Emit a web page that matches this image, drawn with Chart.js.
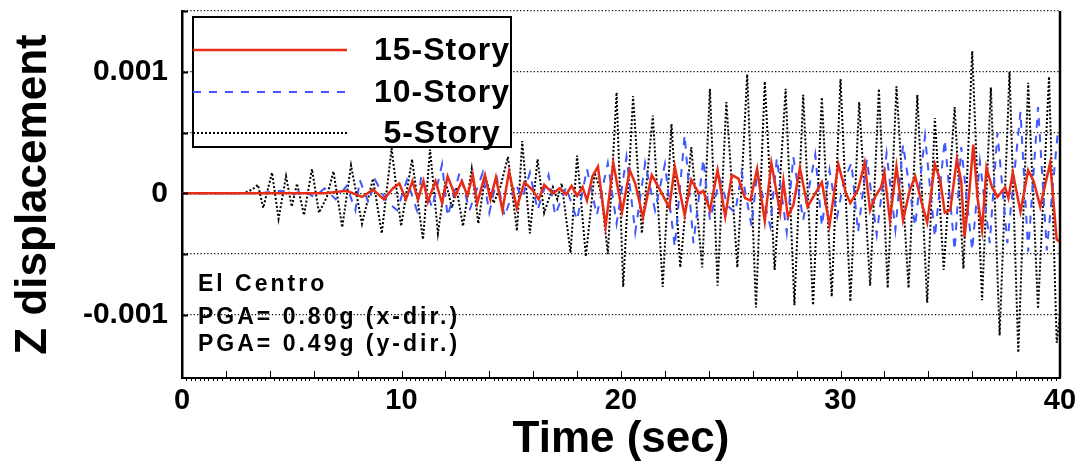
<!DOCTYPE html>
<html>
<head>
<meta charset="utf-8">
<script src="https://cdn.jsdelivr.net/npm/chart.js@4/dist/chart.umd.min.js"></script>
<style>
  html, body { margin: 0; padding: 0; background: #fff; }
</style>
</head>
<body>
<canvas id="zdisp" width="1085" height="470"></canvas>
<script>
// Z displacement time histories, El Centro record
// times in seconds, displacements as plotted on the y axis

const time15 = [0, 6.5, 7.5, 8.2, 8.7, 9.2, 9.6, 9.9, 10.2, 10.5,
    10.75, 11.0, 11.2, 11.55, 11.85, 12.1, 12.45, 12.75, 13.0, 13.25,
    13.45, 13.8, 14.05, 14.3, 14.6, 14.9, 15.25, 15.6, 15.95, 16.25,
    16.5, 16.9, 17.2, 17.5, 17.75, 18.0, 18.25, 18.45, 18.7, 18.95,
    19.3, 19.65, 20.05, 20.4, 20.65, 21.0, 21.4, 21.8, 22.2, 22.45,
    22.9, 23.2, 23.55, 23.75, 24.05, 24.4, 24.75, 25.05, 25.35, 25.65,
    25.9, 26.2, 26.55, 26.85, 27.25, 27.4, 27.6, 27.85, 28.15, 28.5,
    28.85, 29.15, 29.5, 29.9, 30.25, 30.45, 30.8, 31.1, 31.35, 31.6,
    31.85, 32.0, 32.25, 32.55, 32.85, 33.15, 33.4, 33.7, 33.95, 34.3,
    34.55, 34.75, 35.0, 35.3, 35.5, 35.65, 35.85, 36.05, 36.25, 36.45,
    36.65, 36.9, 37.15, 37.5, 37.65, 37.85, 38.2, 38.55, 38.8, 39.1,
    39.55, 39.85, 40];
const disp15 = [0, 0, 0.02e-3, -0.03e-3, 0.03e-3, -0.05e-3, 0.04e-3, 0.08e-3, -0.05e-3, 0.1e-3,
    -0.05e-3, 0.1e-3, -0.07e-3, 0.1e-3, -0.08e-3, 0.14e-3, -0.02e-3, 0.1e-3, -0.02e-3, 0.15e-3,
    -0.08e-3, 0.15e-3, -0.05e-3, 0.13e-3, -0.14e-3, 0.18e-3, -0.12e-3, 0.09e-3, 0.03e-3, -0.05e-3,
    0.07e-3, 0.0, 0.04e-3, -0.01e-3, 0.06e-3, -0.02e-3, 0.05e-3, -0.06e-3, 0.14e-3, 0.22e-3,
    -0.27e-3, 0.25e-3, -0.15e-3, 0.19e-3, 0.08e-3, -0.2e-3, 0.15e-3, 0.02e-3, -0.12e-3, 0.22e-3,
    -0.18e-3, 0.11e-3, 0.0, 0.02e-3, -0.14e-3, 0.19e-3, -0.19e-3, 0.15e-3, 0.12e-3, -0.04e-3,
    -0.06e-3, 0.2e-3, -0.23e-3, 0.25e-3, -0.16e-3, 0.1e-3, -0.19e-3, -0.1e-3, 0.21e-3, -0.11e-3,
    0.0, 0.09e-3, -0.26e-3, 0.24e-3, 0.0, -0.08e-3, 0.03e-3, 0.25e-3, -0.14e-3, -0.02e-3,
    0.05e-3, 0.17e-3, -0.22e-3, 0.22e-3, -0.22e-3, 0.02e-3, 0.14e-3, -0.08e-3, -0.24e-3, 0.24e-3,
    0.1e-3, -0.16e-3, -0.14e-3, 0.28e-3, 0.1e-3, -0.36e-3, -0.03e-3, 0.4e-3, -0.05e-3, -0.3e-3,
    0.21e-3, 0.05e-3, -0.03e-3, 0.05e-3, -0.04e-3, 0.17e-3, -0.15e-3, 0.19e-3, 0.1e-3, -0.11e-3,
    0.25e-3, -0.38e-3, -0.4e-3];

const time10 = [0, 3.5, 4.5, 5.0, 5.5, 6.0, 6.5, 7.0, 7.5, 7.9,
    8.1, 8.5, 8.8, 9.3, 9.8, 10.25, 10.7, 10.9, 11.4, 11.85,
    12.1, 12.65, 13.1, 13.7, 14.0, 14.35, 14.7, 15.2, 15.5, 15.85,
    16.2, 16.7, 17.0, 17.5, 18.0, 18.45, 18.9, 19.4, 19.8, 20.25,
    20.65, 21.1, 21.55, 22.0, 22.45, 22.9, 23.3, 23.75, 24.05, 24.5,
    24.85, 25.2, 25.5, 25.95, 26.2, 26.8, 27.1, 27.55, 27.85, 28.3,
    28.85, 29.15, 29.5, 29.85, 30.15, 30.5, 30.8, 31.2, 31.65, 32.1,
    32.5, 32.85, 33.4, 33.85, 34.3, 34.75, 35.2, 35.5, 36.0, 36.35,
    36.8, 37.15, 37.6, 38.2, 38.55, 39.0, 39.4, 39.9, 40];
const disp10 = [0, 0, 0.02e-3, -0.02e-3, 0.03e-3, -0.03e-3, 0.04e-3, -0.05e-3, 0.06e-3, -0.14e-3,
    0.11e-3, -0.08e-3, 0.11e-3, -0.06e-3, -0.14e-3, 0.11e-3, -0.14e-3, 0.14e-3, -0.12e-3, 0.24e-3,
    -0.19e-3, 0.17e-3, -0.14e-3, 0.17e-3, -0.16e-3, 0.12e-3, -0.19e-3, 0.08e-3, -0.04e-3, 0.17e-3,
    -0.14e-3, 0.15e-3, -0.18e-3, 0.05e-3, -0.22e-3, 0.2e-3, -0.18e-3, 0.25e-3, -0.25e-3, 0.3e-3,
    -0.32e-3, 0.25e-3, -0.14e-3, 0.24e-3, -0.44e-3, 0.48e-3, -0.41e-3, 0.28e-3, -0.22e-3, 0.12e-3,
    -0.1e-3, -0.16e-3, 0.17e-3, -0.27e-3, 0.17e-3, -0.27e-3, 0.29e-3, -0.32e-3, 0.3e-3, -0.22e-3,
    0.32e-3, -0.27e-3, 0.19e-3, -0.19e-3, 0.1e-3, 0.25e-3, -0.32e-3, 0.28e-3, -0.34e-3, 0.33e-3,
    -0.3e-3, 0.4e-3, -0.27e-3, 0.47e-3, -0.36e-3, 0.44e-3, -0.47e-3, 0.38e-3, -0.47e-3, 0.26e-3,
    -0.41e-3, 0.5e-3, -0.41e-3, 0.67e-3, -0.48e-3, 0.71e-3, -0.47e-3, 0.5e-3, 0.45e-3];

const time5 = [0, 2.8, 3.2, 3.46, 3.7, 4.1, 4.4, 4.74, 5.0, 5.24,
    5.56, 5.92, 6.24, 6.6, 6.9, 7.3, 7.7, 8.2, 8.7, 9.1,
    9.55, 9.98, 10.48, 10.98, 11.3, 11.66, 12.0, 12.3, 12.5, 12.8,
    13.2, 13.5, 13.8, 14.2, 14.5, 14.85, 15.26, 15.5, 15.85, 16.2,
    16.5, 16.9, 17.1, 17.3, 17.7, 18.0, 18.4, 18.8, 19.1, 19.4,
    19.8, 20.1, 20.55, 20.95, 21.45, 21.9, 22.3, 22.7, 23.2, 23.7,
    24.05, 24.4, 24.8, 25.3, 25.75, 26.15, 26.55, 27.0, 27.5, 27.9,
    28.3, 28.75, 29.15, 29.6, 30.0, 30.45, 30.85, 31.35, 31.75, 32.15,
    32.55, 33.1, 33.5, 33.95, 34.3, 34.7, 35.2, 35.6, 36.0, 36.45,
    36.85, 37.25, 37.7, 38.1, 38.55, 39.0, 39.5, 39.85, 40];
const disp5 = [0, 0, 0.03e-3, 0.07e-3, -0.12e-3, 0.17e-3, -0.21e-3, 0.14e-3, -0.11e-3, 0.08e-3,
    -0.18e-3, 0.2e-3, -0.16e-3, -0.03e-3, 0.18e-3, -0.28e-3, 0.23e-3, -0.25e-3, 0.12e-3, -0.33e-3,
    0.37e-3, -0.27e-3, 0.28e-3, -0.38e-3, 0.36e-3, -0.33e-3, 0.1e-3, -0.12e-3, 0.05e-3, -0.27e-3,
    0.2e-3, -0.25e-3, 0.14e-3, -0.08e-3, 0.05e-3, 0.3e-3, -0.31e-3, 0.43e-3, -0.33e-3, 0.28e-3,
    -0.16e-3, 0.05e-3, -0.05e-3, 0.08e-3, -0.49e-3, 0.31e-3, -0.52e-3, 0.17e-3, 0.0, -0.5e-3,
    0.83e-3, -0.77e-3, 0.8e-3, -0.33e-3, 0.64e-3, -0.77e-3, 0.57e-3, -0.61e-3, 0.38e-3, -0.61e-3,
    0.86e-3, -0.76e-3, 0.75e-3, -0.61e-3, 0.98e-3, -0.94e-3, 0.92e-3, -0.63e-3, 0.86e-3, -0.92e-3,
    0.81e-3, -0.92e-3, 0.79e-3, -0.85e-3, 0.94e-3, -0.89e-3, 0.75e-3, -0.76e-3, 0.86e-3, -0.78e-3,
    0.88e-3, -0.78e-3, 0.81e-3, -0.9e-3, 0.62e-3, -0.63e-3, 0.71e-3, -0.62e-3, 1.17e-3, -0.88e-3,
    0.87e-3, -1.17e-3, 1.0e-3, -1.31e-3, 0.91e-3, -0.95e-3, 0.96e-3, -1.23e-3, -1.0e-3];

const seriesNames = ['15-Story', '10-Story', '5-Story'];
const xTickLabels = [0, 10, 20, 30, 40];
const yTickLabels = [0.001, 0, -0.001];
const yTickMarks = [0.0015, 0.001, 0.0005, 0, -0.0005, -0.001];
const noteLines = ['El Centro', 'PGA= 0.80g (x-dir.)', 'PGA= 0.49g (y-dir.)'];

const FONT = "'Liberation Sans', Arial, Helvetica, sans-serif";

function pairs(t, v) {
    return t.map((tt, i) => ({ x: tt, y: v[i] }));
}

const styles = [
    { color: 'rgb(232, 44, 22)', width: 2.5, dash: [] },
    { color: 'rgb(64, 88, 255)', width: 2, dash: [8, 8] },
    { color: '#000', width: 2, dash: [2, 2] }
];

// legend box, annotation text, right frame and inward tick marks
const decorations = {
    id: 'decorations',
    afterDatasetsDraw(chart) {
        const { ctx, chartArea: a, scales: { x, y } } = chart;
        ctx.save();
        ctx.strokeStyle = '#000';
        ctx.setLineDash([]);

        ctx.lineWidth = 2.5;
        ctx.beginPath();
        ctx.moveTo(a.right, a.top);
        ctx.lineTo(a.right, a.bottom);
        ctx.stroke();

        ctx.lineWidth = 2;
        yTickMarks.forEach(v => {
            const py = Math.round(y.getPixelForValue(v)) + 0.5;
            ctx.beginPath();
            ctx.moveTo(a.left, py);
            ctx.lineTo(a.left + 6, py);
            ctx.stroke();
        });

        ctx.lineWidth = 1;
        for (let i = 0; i <= 200; i++) {
            const px = Math.round(x.getPixelForValue(i / 5)) + 0.5;
            ctx.beginPath();
            if (i % 10 === 0) {
                ctx.moveTo(px, a.bottom);
                ctx.lineTo(px, a.bottom - 7);
            } else {
                ctx.moveTo(px, a.bottom);
                ctx.lineTo(px, a.bottom + 3);
            }
            ctx.stroke();
        }

        // El Centro note
        ctx.fillStyle = '#000';
        ctx.font = 'bold 23px ' + FONT;
        ctx.textBaseline = 'middle';
        ctx.textAlign = 'left';
        if ('letterSpacing' in ctx) ctx.letterSpacing = '3px';
        const noteY = [285, 318, 345];
        noteLines.forEach((s, i) => ctx.fillText(s, a.left + 16, noteY[i]));
        if ('letterSpacing' in ctx) ctx.letterSpacing = '0px';
        ctx.restore();
    },
    afterDraw(chart) {
        const { ctx } = chart;
        const box = { left: 193, top: 17, right: 511, bottom: 147 };
        const rowY = [50, 92, 133];
        ctx.save();
        ctx.fillStyle = '#fff';
        ctx.fillRect(box.left, box.top, box.right - box.left, box.bottom - box.top);
        ctx.strokeStyle = '#000';
        ctx.lineWidth = 2;
        ctx.strokeRect(box.left, box.top, box.right - box.left, box.bottom - box.top);

        chart.data.datasets.forEach((ds, i) => {
            ctx.strokeStyle = ds.borderColor;
            ctx.lineWidth = ds.borderWidth;
            ctx.setLineDash(ds.borderDash);
            ctx.beginPath();
            ctx.moveTo(box.left, rowY[i]);
            ctx.lineTo(347, rowY[i]);
            ctx.stroke();

            ctx.fillStyle = '#000';
            ctx.font = 'bold 32px ' + FONT;
            ctx.textAlign = 'center';
            ctx.textBaseline = 'middle';
            if ('letterSpacing' in ctx) ctx.letterSpacing = '1px';
            ctx.fillText(ds.label, 442, rowY[i] + 1);
        });
        ctx.restore();
    }
};

new Chart(document.getElementById('zdisp'), {
    type: 'line',
    data: {
        datasets: [
            { label: seriesNames[0], data: pairs(time15, disp15) },
            { label: seriesNames[1], data: pairs(time10, disp10) },
            { label: seriesNames[2], data: pairs(time5, disp5) }
        ].map((ds, i) => Object.assign(ds, {
            borderColor: styles[i].color,
            borderWidth: styles[i].width,
            borderDash: styles[i].dash,
            pointRadius: 0,
            tension: 0,
            fill: false
        }))
    },
    options: {
        responsive: false,
        animation: false,
        layout: { padding: { left: 0, top: 11, right: 25, bottom: 0 } },
        plugins: {
            legend: { display: false },
            tooltip: { enabled: false }
        },
        scales: {
            x: {
                type: 'linear',
                min: 0,
                max: 40,
                afterFit: s => { s.height = 92; },
                afterBuildTicks: s => { s.ticks = xTickLabels.map(v => ({ value: v })); },
                grid: { display: false, drawTicks: false },
                border: { display: true, color: '#000', width: 2 },
                ticks: {
                    color: '#000',
                    padding: 6,
                    maxRotation: 0,
                    font: { family: FONT, size: 29, weight: 'bold' }
                },
                title: {
                    display: true,
                    text: 'Time (sec)',
                    color: '#000',
                    padding: { top: 0, bottom: 4 },
                    font: { family: FONT, size: 44, weight: 'bold' }
                }
            },
            y: {
                min: -0.00152,
                max: 0.0015,
                afterFit: s => {
                    s.width = 182;
                    s.paddingTop = 0;
                    s.paddingBottom = 0;
                },
                afterBuildTicks: s => { s.ticks = yTickMarks.map(v => ({ value: v })); },
                grid: {
                    drawTicks: false,
                    color: '#000',
                    lineWidth: 1.2
                },
                border: { display: true, color: '#000', width: 2.5, dash: [1.2, 2.2] },
                ticks: {
                    color: '#000',
                    padding: 14,
                    font: { family: FONT, size: 30, weight: 'bold' },
                    callback: v => {
                        const hit = yTickLabels.find(l => Math.abs(l - v) < 1e-9);
                        if (hit === undefined) return '';
                        return hit === 0 ? '0' : hit.toFixed(3);
                    }
                },
                title: {
                    display: true,
                    text: 'Z displacement',
                    color: '#000',
                    padding: { top: 7, bottom: 0 },
                    font: { family: FONT, size: 44, weight: 'bold' }
                }
            }
        }
    },
    plugins: [decorations]
});
</script>
</body>
</html>
